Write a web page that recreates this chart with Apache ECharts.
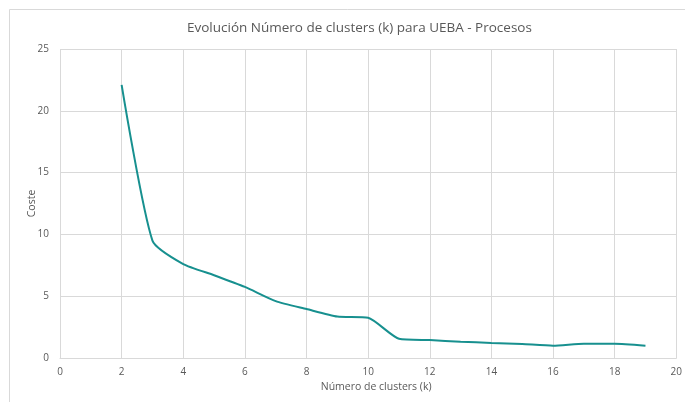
<!DOCTYPE html>
<html><head><meta charset="utf-8">
<script src="https://cdn.jsdelivr.net/npm/echarts@6/dist/echarts.min.js"></script>
<style>html,body{margin:0;padding:0;background:#fff}#c{width:685px;height:402px}</style>
</head><body><div id="c"></div>
<script>
const ks = [2,3,4,5,6,7,8,9,10,11,12,13,14,15,16,17,18,19];
const coste = [22.1,9.5,7.6,6.7,5.75,4.6,3.96,3.35,3.25,1.56,1.45,1.32,1.22,1.13,1.0,1.16,1.16,1.0];
const xTicks = [0,2,4,6,8,10,12,14,16,18,20];
const yTicks = [0,5,10,15,20,25];
const titleText = 'Evolución Número de clusters (k) para UEBA - Procesos';
const xName = 'Número de clusters (k)';
const yName = 'Coste';

const chart = echarts.init(document.getElementById('c'), null, {renderer:'canvas'});
const font = 'Open Sans, Liberation Sans, sans-serif';
chart.setOption({
  animation:false,
  backgroundColor:'#fff',
  graphic:[{type:'rect',shape:{x:9.5,y:9.5,width:700,height:420},style:{fill:'none',stroke:'#d9d9d9',lineWidth:1},silent:true}],
  title:{text:titleText,left:182,top:16,textStyle:{fontFamily:font,fontSize:13.5,fontWeight:'normal',color:'#595959'}},
  grid:{left:60,right:5,top:49,bottom:44},
  xAxis:{type:'value',min:xTicks[0],max:xTicks[xTicks.length-1],interval:2,
    name:xName,nameLocation:'middle',nameGap:24,nameMoveOverlap:false,nameTextStyle:{fontFamily:font,fontSize:10.5,color:'#595959',padding:[0,0,0,16]},
    axisLine:{lineStyle:{color:'#d9d9d9'}},axisTick:{show:false},
    axisLabel:{fontFamily:font,fontSize:10,color:'#595959',margin:9},
    splitLine:{show:true,lineStyle:{color:'#d9d9d9'}}},
  yAxis:{type:'value',min:yTicks[0],max:yTicks[yTicks.length-1],interval:5,
    name:yName,nameLocation:'middle',nameGap:22,nameMoveOverlap:false,nameRotate:90,nameTextStyle:{fontFamily:font,fontSize:10.5,color:'#595959'},
    axisLine:{show:false},axisTick:{show:false},
    axisLabel:{fontFamily:font,fontSize:10,color:'#595959',margin:11},
    splitLine:{show:true,lineStyle:{color:'#d9d9d9'}}},
  series:[{type:'line',data:ks.map((k,i)=>[k,coste[i]]),smooth:0.2,showSymbol:false,
    lineStyle:{color:'#17908f',width:2},itemStyle:{color:'#17908f'}}]
});
</script></body></html>
